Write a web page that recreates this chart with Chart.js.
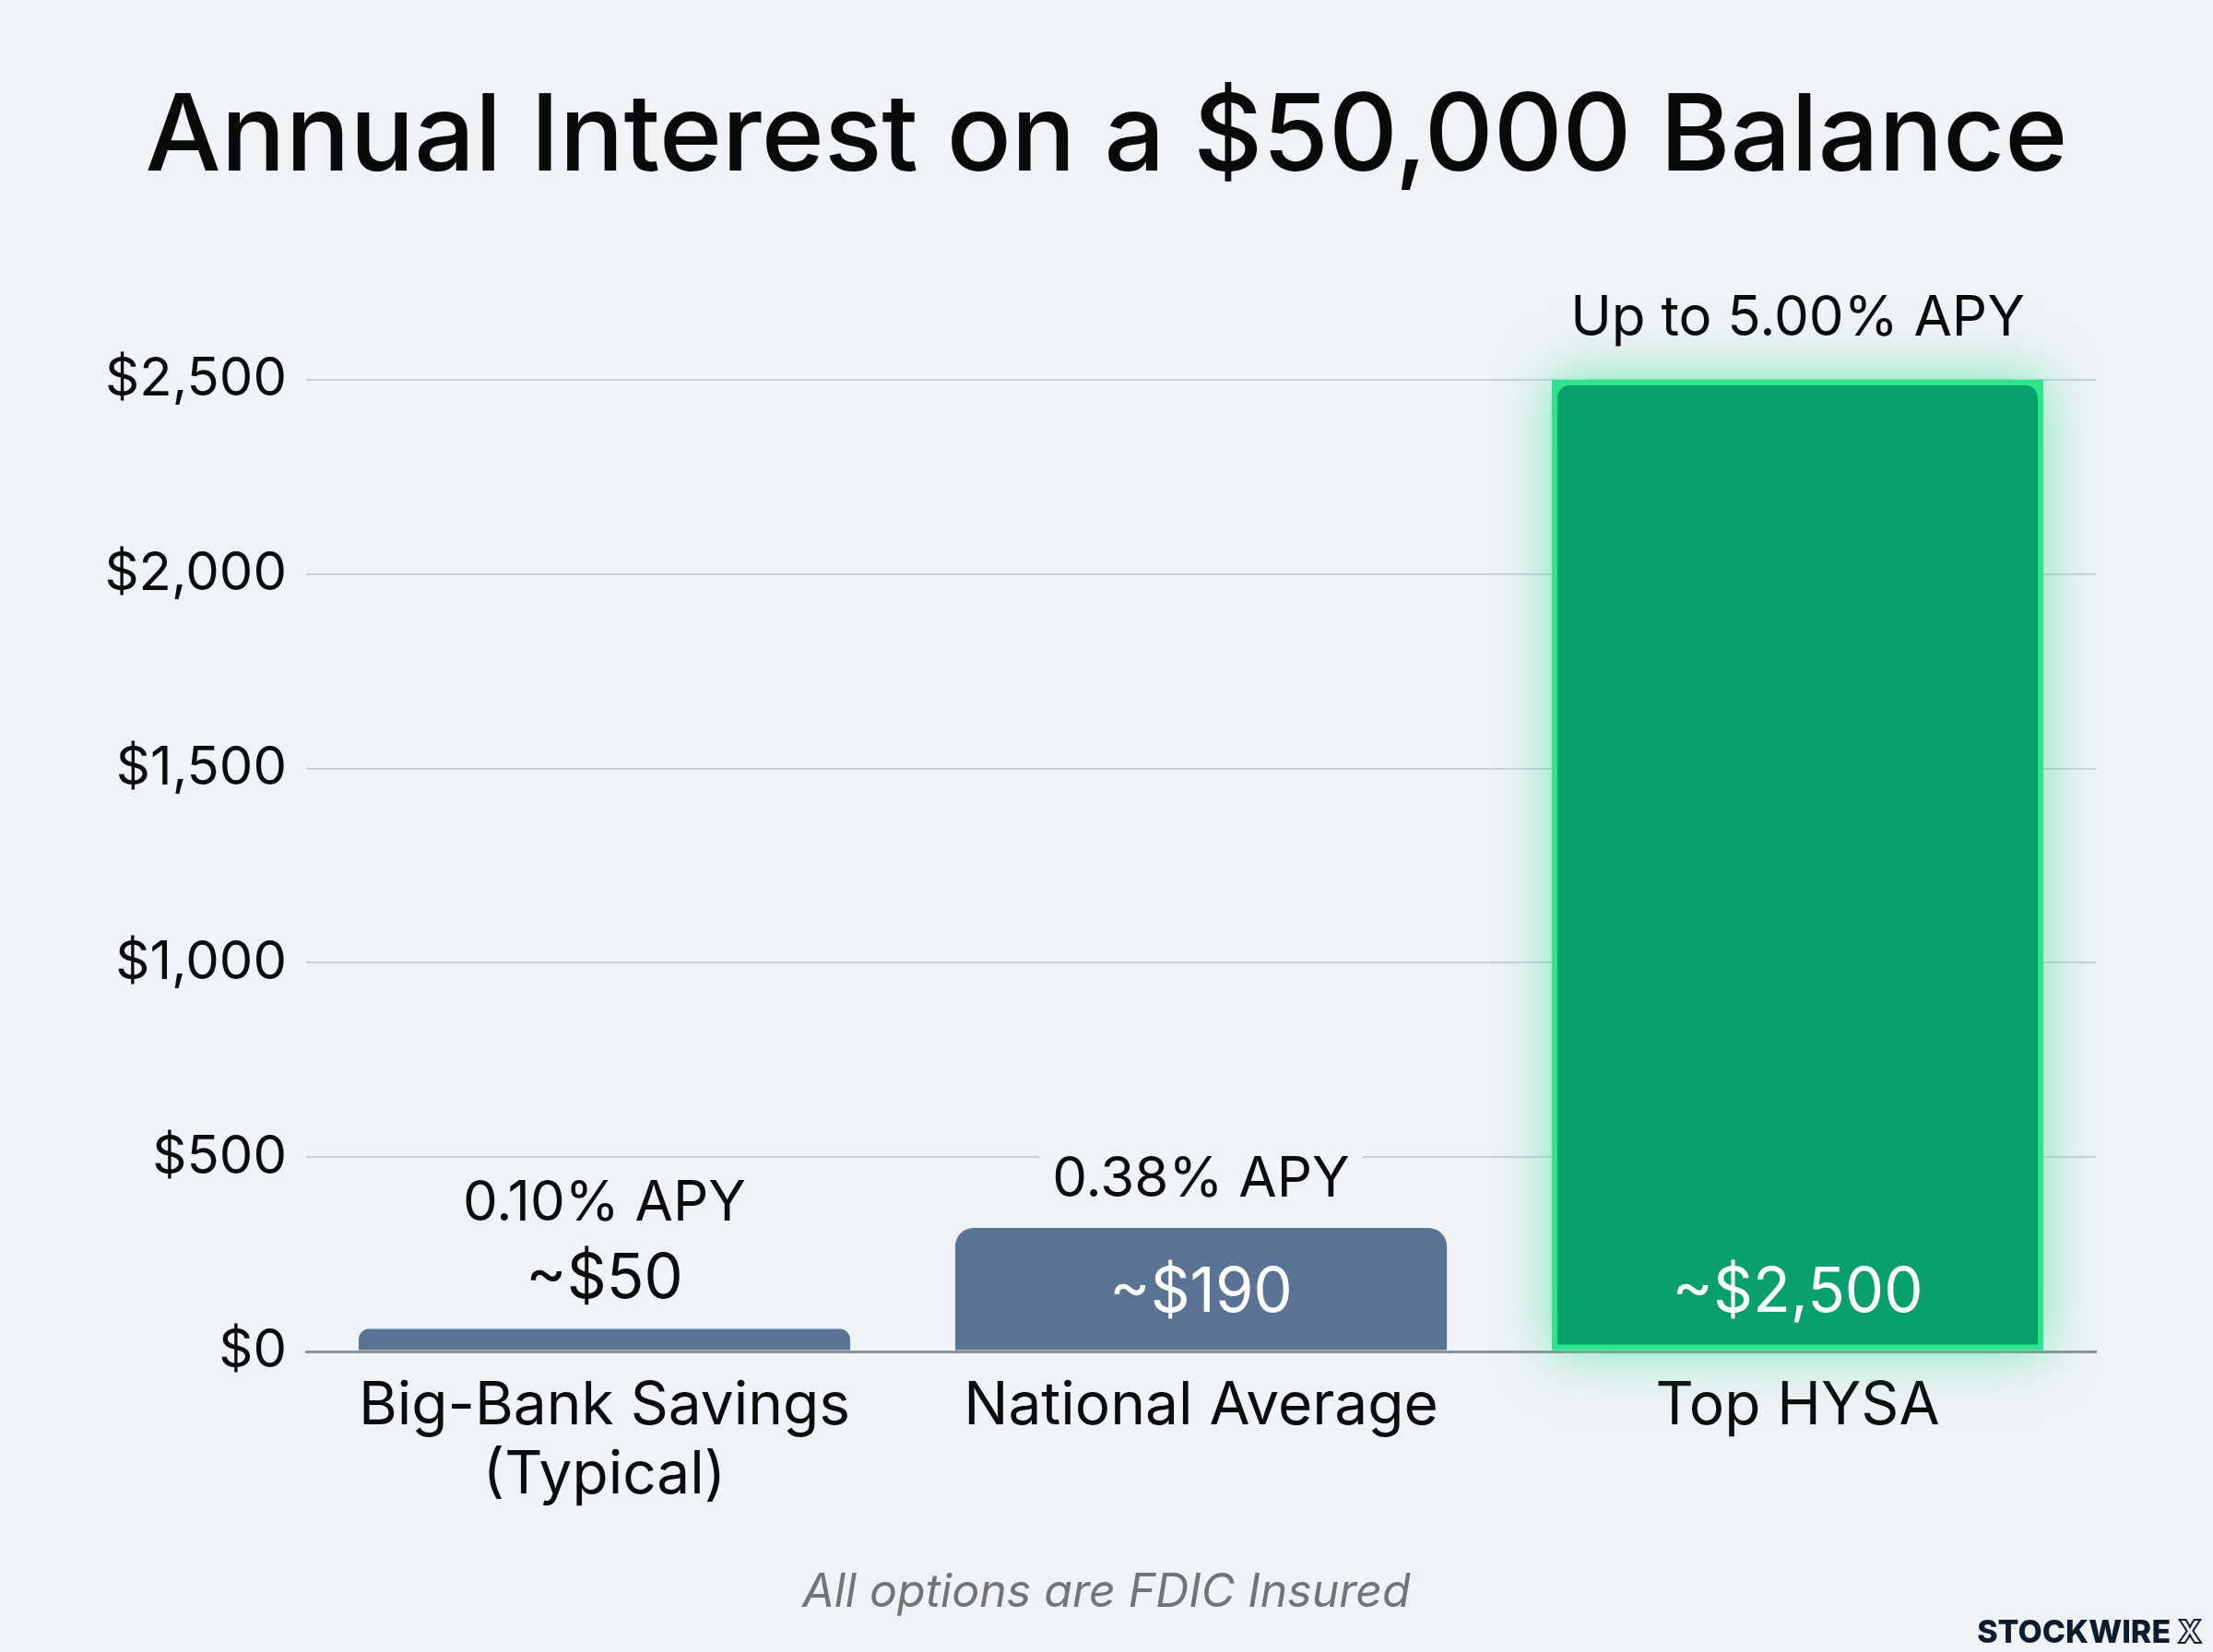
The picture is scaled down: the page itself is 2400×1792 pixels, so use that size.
<!DOCTYPE html>
<html>
<head>
<meta charset="utf-8">
<script src="https://cdn.jsdelivr.net/npm/chart.js@4.4.1/dist/chart.umd.min.js"></script>
<style>
    html, body { margin: 0; padding: 0; background: #eff2f6; }
    #wrap { width: 2400px; height: 1792px; }
</style>
</head>
<body>
<div id="wrap"><canvas id="chart" width="2400" height="1792"></canvas></div>
<script>
// --- Data ---
const categories = [['Big-Bank Savings', '(Typical)'], 'National Average', 'Top HYSA'];
const barValues = [58, 318, 2500];
const apyLabels = ['0.10% APY', '0.38% APY', 'Up to 5.00% APY'];
const valueLabels = ['~$50', '~$190', '~$2,500'];
const yTicks = [0, 500, 1000, 1500, 2000, 2500];

const titleText = 'Annual Interest on a $50,000 Balance';
const footText = 'All options are FDIC Insured';

// --- Style ---
const FONT = 'Inter, "Open Sans", sans-serif';
const BG = '#eff2f6';
const barColors = ['#5a7394', '#5a7394', '#09a06b'];

// background fill
const bgPlugin = {
    id: 'bg',
    beforeDraw(chart) {
        const c = chart.ctx;
        c.save();
        c.fillStyle = BG;
        c.fillRect(0, 0, chart.width, chart.height);
        c.restore();
    }
};

// green glow behind the top bar
const glowPlugin = {
    id: 'glow',
    beforeDatasetsDraw(chart) {
        const c = chart.ctx;
        const el = chart.getDatasetMeta(0).data[2];
        c.save();
        c.shadowColor = 'rgba(40, 228, 140, 0.65)';
        c.shadowBlur = 55;
        c.fillStyle = '#2de58a';
        c.fillRect(el.x - el.width / 2, el.y, el.width, el.base - el.y);
        c.restore();
    }
};

// APY and value labels on the bars
const labelPlugin = {
    id: 'barLabels',
    afterDatasetsDraw(chart) {
        const c = chart.ctx;
        const meta = chart.getDatasetMeta(0);
        const top = chart.chartArea.top;
        c.save();
        c.textAlign = 'center';
        c.textBaseline = 'middle';
        meta.data.forEach((el, i) => {
            const h = el.base - el.y;
            let apyY, valY, valColor;
            if (h > 100) {
                valY = el.base - 62;
                valColor = '#ffffff';
                apyY = el.y - (i === 2 ? 66 : 52);
            } else {
                valY = el.y - 54;
                valColor = '#0b0b0b';
                apyY = el.y - 136;
            }
            // APY label, with a background patch where it sits over gridlines
            c.font = '400 60px ' + FONT;
            const w = c.measureText(apyLabels[i]).width;
            if (apyY > top) {
                c.fillStyle = BG;
                c.fillRect(el.x - w / 2 - 14, apyY - 38, w + 28, 76);
            }
            c.fillStyle = '#0b0b0b';
            c.fillText(apyLabels[i], el.x, apyY);

            c.font = '400 67px ' + FONT;
            c.fillStyle = valColor;
            c.fillText(valueLabels[i], el.x, valY);
        });
        c.restore();
    }
};

// title, footnote, brand
const textPlugin = {
    id: 'texts',
    afterDraw(chart) {
        const c = chart.ctx;
        c.save();
        c.textAlign = 'center';
        c.textBaseline = 'middle';
        c.fillStyle = '#0a0a0a';
        c.font = '500 116px ' + FONT;
        c.fillText(titleText, 1200, 150);

        c.fillStyle = '#747474';
        c.font = 'italic 400 50px ' + FONT;
        c.fillText(footText, 1200, 1728);

        // brand mark
        c.textAlign = 'right';
        c.textBaseline = 'alphabetic';
        c.font = '800 34px ' + FONT;
        c.strokeStyle = '#0d1b2e';
        c.lineWidth = 2;
        c.strokeText('X', 2388, 1782);
        const xw = c.measureText('X').width;
        c.fillStyle = '#0d1b2e';
        c.fillText('STOCKWIRE', 2388 - xw - 8, 1782);
        c.restore();
    }
};

new Chart(document.getElementById('chart').getContext('2d'), {
    type: 'bar',
    data: {
        labels: categories,
        datasets: [{
            data: barValues,
            backgroundColor: barColors,
            borderColor: ['#5a7394', '#5a7394', '#2de58a'],
            borderWidth: [0, 0, 6],
            borderSkipped: ctx => ctx.dataIndex === 2 ? false : 'start',
            borderRadius: { topLeft: 20, topRight: 20, bottomLeft: 0, bottomRight: 0 },
            categoryPercentage: 1,
            barPercentage: 0.824
        }]
    },
    options: {
        responsive: false,
        animation: false,
        devicePixelRatio: 1,
        layout: { padding: { top: 412, right: 127, bottom: 126, left: 0 } },
        plugins: {
            legend: { display: false },
            tooltip: { enabled: false },
            title: { display: false }
        },
        scales: {
            x: {
                grid: { display: false, drawTicks: false },
                border: { display: true, color: '#8d9299', width: 3 },
                ticks: {
                    color: '#0b0b0b',
                    font: { family: FONT, size: 64, weight: '400', lineHeight: 1.17 },
                    padding: 22,
                    maxRotation: 0,
                    autoSkip: false
                },
                afterFit: s => { s.height = 200; }
            },
            y: {
                min: 0,
                max: 2500,
                afterBuildTicks: s => { s.ticks = yTicks.map(v => ({ value: v })); },
                grid: {
                    color: ctx => ctx.tick && ctx.tick.value === 0 ? '#8d9299' : '#ccd1d7',
                    lineWidth: ctx => ctx.tick && ctx.tick.value === 0 ? 3 : 2,
                    drawTicks: false
                },
                border: { display: false },
                ticks: {
                    color: '#0b0b0b',
                    font: { family: FONT, size: 58, weight: '400' },
                    padding: 21,
                    callback: v => '$' + v.toLocaleString('en-US')
                },
                afterFit: s => { s.width = 332; }
            }
        }
    },
    plugins: [bgPlugin, glowPlugin, labelPlugin, textPlugin]
});
</script>
</body>
</html>
